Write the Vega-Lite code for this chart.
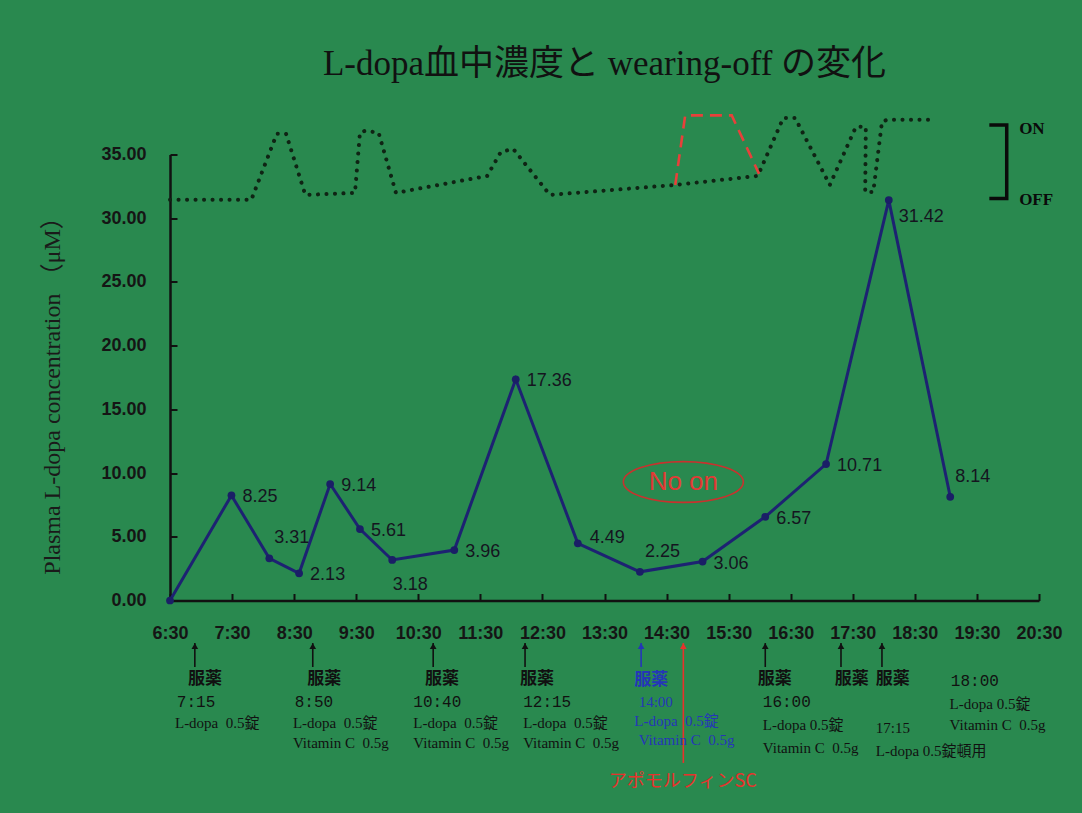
{
  "$schema": "https://vega.github.io/schema/vega-lite/v6.json",
  "width": 869,
  "height": 446,
  "autosize": {"type": "none"},
  "padding": {"left": 170, "top": 154.5, "right": 43, "bottom": 212.5},
  "background": "#29894f",
  "config": {
    "view": {"stroke": null},
    "axis": {
      "grid": false,
      "domainColor": "#111111",
      "domainWidth": 2.5,
      "tickColor": "#111111",
      "tickWidth": 2,
      "tickSize": -7,
      "labelOverlap": false,
      "labelFlush": false,
      "labelFont": "Liberation Sans",
      "labelFontWeight": "bold",
      "labelFontSize": 18,
      "labelColor": "#151515"
    }
  },
  "title": {
    "text": "L-dopa血中濃度と wearing-off の変化",
    "font": "Liberation Serif, Noto Sans CJK JP",
    "fontSize": 35,
    "fontWeight": "normal",
    "color": "#111111",
    "anchor": "middle",
    "frame": "group",
    "offset": 28
  },
  "datasets": {
    "conc": [
      {"t": 6.5, "conc": 0},
      {"t": 7.49, "conc": 8.25},
      {"t": 8.1, "conc": 3.31},
      {"t": 8.58, "conc": 2.13},
      {"t": 9.08, "conc": 9.14},
      {"t": 9.56, "conc": 5.61},
      {"t": 10.08, "conc": 3.18},
      {"t": 11.08, "conc": 3.96},
      {"t": 12.07, "conc": 17.36},
      {"t": 13.07, "conc": 4.49},
      {"t": 14.07, "conc": 2.25},
      {"t": 15.08, "conc": 3.06},
      {"t": 16.09, "conc": 6.57},
      {"t": 17.07, "conc": 10.71},
      {"t": 18.08, "conc": 31.42},
      {"t": 19.07, "conc": 8.14}
    ],
    "wearing": [
      {"seq": 1, "t": 6.5, "level": 31.44, "trace": "observed"},
      {"seq": 2, "t": 7.81, "level": 31.44, "trace": "observed"},
      {"seq": 3, "t": 8.22, "level": 36.62, "trace": "observed"},
      {"seq": 4, "t": 8.37, "level": 36.62, "trace": "observed"},
      {"seq": 5, "t": 8.68, "level": 31.83, "trace": "observed"},
      {"seq": 6, "t": 9.48, "level": 31.99, "trace": "observed"},
      {"seq": 7, "t": 9.56, "level": 36.72, "trace": "observed"},
      {"seq": 8, "t": 9.64, "level": 36.85, "trace": "observed"},
      {"seq": 9, "t": 9.86, "level": 36.72, "trace": "observed"},
      {"seq": 10, "t": 10.14, "level": 31.99, "trace": "observed"},
      {"seq": 11, "t": 11.61, "level": 33.32, "trace": "observed"},
      {"seq": 12, "t": 11.83, "level": 35.2, "trace": "observed"},
      {"seq": 13, "t": 12.03, "level": 35.44, "trace": "observed"},
      {"seq": 14, "t": 12.62, "level": 31.83, "trace": "observed"},
      {"seq": 15, "t": 14.64, "level": 32.61, "trace": "observed"},
      {"seq": 16, "t": 15.97, "level": 33.32, "trace": "observed"},
      {"seq": 17, "t": 16.38, "level": 37.87, "trace": "observed"},
      {"seq": 18, "t": 16.57, "level": 37.87, "trace": "observed"},
      {"seq": 19, "t": 17.13, "level": 32.61, "trace": "observed"},
      {"seq": 20, "t": 17.55, "level": 37.17, "trace": "observed"},
      {"seq": 21, "t": 17.71, "level": 37.17, "trace": "observed"},
      {"seq": 22, "t": 17.7, "level": 32.06, "trace": "observed"},
      {"seq": 23, "t": 17.83, "level": 32.06, "trace": "observed"},
      {"seq": 24, "t": 17.97, "level": 37.56, "trace": "observed"},
      {"seq": 25, "t": 18.05, "level": 37.72, "trace": "observed"},
      {"seq": 26, "t": 18.74, "level": 37.72, "trace": "observed"},
      {"seq": 1, "t": 14.64, "level": 32.61, "trace": "expected"},
      {"seq": 2, "t": 14.8, "level": 38.07, "trace": "expected"},
      {"seq": 3, "t": 15.55, "level": 38.07, "trace": "expected"},
      {"seq": 4, "t": 15.99, "level": 33.48, "trace": "expected"}
    ],
    "bracket": [
      {"seq": 1, "t": 19.7, "level": 37.32},
      {"seq": 2, "t": 19.98, "level": 37.32},
      {"seq": 3, "t": 19.98, "level": 31.55},
      {"seq": 4, "t": 19.7, "level": 31.55}
    ],
    "states": [
      {"t": 20.18, "level": 37.0, "text": "ON"},
      {"t": 20.18, "level": 31.44, "text": "OFF"}
    ],
    "noon": [
      {"t": 14.77, "level": 9.3, "text": "No on"}
    ],
    "doses": [
      {"t": 6.9, "top": -3.34, "bottom": -5.22, "group": "dose"},
      {"t": 8.8, "top": -3.34, "bottom": -5.22, "group": "dose"},
      {"t": 10.74, "top": -3.34, "bottom": -5.22, "group": "dose"},
      {"t": 12.22, "top": -3.34, "bottom": -5.22, "group": "dose"},
      {"t": 14.09, "top": -3.34, "bottom": -5.22, "group": "dose-no-on"},
      {"t": 14.77, "top": -3.34, "bottom": -12.75, "group": "apomorphine"},
      {"t": 16.09, "top": -3.34, "bottom": -5.22, "group": "dose"},
      {"t": 17.31, "top": -3.34, "bottom": -5.22, "group": "dose"},
      {"t": 17.97, "top": -3.34, "bottom": -5.22, "group": "dose"}
    ],
    "notes": [
      {"t": 6.79, "y": -6.16, "text": "服薬", "kind": "label", "group": "dose"},
      {"t": 8.71, "y": -6.16, "text": "服薬", "kind": "label", "group": "dose"},
      {"t": 10.61, "y": -6.16, "text": "服薬", "kind": "label", "group": "dose"},
      {"t": 12.14, "y": -6.16, "text": "服薬", "kind": "label", "group": "dose"},
      {"t": 13.98, "y": -6.24, "text": "服薬", "kind": "label", "group": "dose-no-on"},
      {"t": 15.97, "y": -6.16, "text": "服薬", "kind": "label", "group": "dose"},
      {"t": 17.21, "y": -6.16, "text": "服薬", "kind": "label", "group": "dose"},
      {"t": 17.87, "y": -6.16, "text": "服薬", "kind": "label", "group": "dose"},
      {"t": 6.61, "y": -7.97, "text": "7:15", "kind": "time", "group": "dose"},
      {"t": 8.51, "y": -7.97, "text": "8:50", "kind": "time", "group": "dose"},
      {"t": 10.42, "y": -7.97, "text": "10:40", "kind": "time", "group": "dose"},
      {"t": 12.19, "y": -7.97, "text": "12:15", "kind": "time", "group": "dose"},
      {"t": 16.05, "y": -7.97, "text": "16:00", "kind": "time", "group": "dose"},
      {"t": 19.08, "y": -6.32, "text": "18:00", "kind": "time", "group": "dose"},
      {"t": 6.58, "y": -9.62, "text": "L-dopa\u00a0\u00a00.5錠", "kind": "detail", "group": "dose"},
      {"t": 8.48, "y": -9.62, "text": "L-dopa\u00a0\u00a00.5錠", "kind": "detail", "group": "dose"},
      {"t": 8.48, "y": -11.18, "text": "Vitamin C\u00a0\u00a00.5g", "kind": "detail", "group": "dose"},
      {"t": 10.42, "y": -9.62, "text": "L-dopa\u00a0\u00a00.5錠", "kind": "detail", "group": "dose"},
      {"t": 10.42, "y": -11.18, "text": "Vitamin C\u00a0\u00a00.5g", "kind": "detail", "group": "dose"},
      {"t": 12.19, "y": -9.62, "text": "L-dopa\u00a0\u00a00.5錠", "kind": "detail", "group": "dose"},
      {"t": 12.19, "y": -11.18, "text": "Vitamin C\u00a0\u00a00.5g", "kind": "detail", "group": "dose"},
      {"t": 14.05, "y": -7.97, "text": "14:00", "kind": "detail", "group": "dose-no-on"},
      {"t": 13.98, "y": -9.46, "text": "L-dopa\u00a0\u00a00.5錠", "kind": "detail", "group": "dose-no-on"},
      {"t": 14.05, "y": -10.91, "text": "Vitamin C\u00a0\u00a00.5g", "kind": "detail", "group": "dose-no-on"},
      {"t": 16.05, "y": -9.77, "text": "L-dopa 0.5錠", "kind": "detail", "group": "dose"},
      {"t": 16.05, "y": -11.58, "text": "Vitamin C\u00a0\u00a00.5g", "kind": "detail", "group": "dose"},
      {"t": 17.87, "y": -10.0, "text": "17:15", "kind": "detail", "group": "dose"},
      {"t": 17.87, "y": -11.81, "text": "L-dopa 0.5錠頓用", "kind": "detail", "group": "dose"},
      {"t": 19.06, "y": -8.12, "text": "L-dopa 0.5錠", "kind": "detail", "group": "dose"},
      {"t": 19.06, "y": -9.77, "text": "Vitamin C\u00a0\u00a00.5g", "kind": "detail", "group": "dose"},
      {"t": 13.57, "y": -14.25, "text": "アポモルフィンSC", "kind": "apo", "group": "apomorphine"}
    ]
  },
  "layer": [
    {
      "data": {"name": "conc"},
      "mark": {"type": "line", "color": "#1d2272", "strokeWidth": 3, "point": {"filled": true, "size": 60, "color": "#1a1f66"}},
      "encoding": {
        "x": {
          "field": "t", "type": "quantitative",
          "scale": {"domain": [6.5, 20.5], "nice": false, "zero": false},
          "axis": {
            "title": null,
            "values": [6.5, 7.5, 8.5, 9.5, 10.5, 11.5, 12.5, 13.5, 14.5, 15.5, 16.5, 17.5, 18.5, 19.5, 20.5],
            "labelExpr": "floor(datum.value) + ':30'",
            "labelPadding": 31
          }
        },
        "y": {
          "field": "conc", "type": "quantitative",
          "scale": {"domain": [0, 35], "nice": false, "zero": false},
          "axis": {
            "values": [0, 5, 10, 15, 20, 25, 30, 35],
            "format": ".2f",
            "labelPadding": 31,
            "title": "Plasma  L-dopa concentration （μM）",
            "titleFont": "Liberation Serif, Noto Sans CJK JP",
            "titleFontSize": 24,
            "titleFontWeight": "normal",
            "titleColor": "#1a1a1a",
            "titleAngle": -90,
            "titleAlign": "center",
            "titleBaseline": "middle",
            "titleX": -118,
            "titleY": 235
          }
        }
      }
    },
    {
      "data": {"name": "wearing"},
      "transform": [{"filter": "datum.trace === 'observed'"}],
      "mark": {"type": "line", "stroke": "#0f2414", "strokeWidth": 4, "strokeDash": [0.1, 8.4], "strokeCap": "round", "strokeJoin": "round"},
      "encoding": {
        "x": {"field": "t", "type": "quantitative"},
        "y": {"field": "level", "type": "quantitative"},
        "order": {"field": "seq", "type": "quantitative"}
      }
    },
    {
      "data": {"name": "wearing"},
      "transform": [{"filter": "datum.trace === 'expected'"}],
      "mark": {"type": "line", "stroke": "#e8403a", "strokeWidth": 2.6, "strokeDash": [12, 7]},
      "encoding": {
        "x": {"field": "t", "type": "quantitative"},
        "y": {"field": "level", "type": "quantitative"},
        "order": {"field": "seq", "type": "quantitative"}
      }
    },
    {
      "data": {"name": "bracket"},
      "mark": {"type": "line", "stroke": "#0a0a0a", "strokeWidth": 3.5, "strokeJoin": "miter"},
      "encoding": {
        "x": {"field": "t", "type": "quantitative"},
        "y": {"field": "level", "type": "quantitative"},
        "order": {"field": "seq", "type": "quantitative"}
      }
    },
    {
      "data": {"name": "states"},
      "mark": {"type": "text", "align": "left", "baseline": "middle", "font": "Liberation Serif", "fontWeight": "bold", "fontSize": 17, "color": "#0a0a0a"},
      "encoding": {
        "x": {"field": "t", "type": "quantitative"},
        "y": {"field": "level", "type": "quantitative"},
        "text": {"field": "text"}
      }
    },
    {
      "data": {"name": "conc"},
      "transform": [{"filter": {"field": "conc", "oneOf": [8.25, 2.13, 9.14, 5.61, 3.96, 17.36, 3.06, 6.57, 10.71]}}],
      "mark": {"type": "text", "align": "left", "baseline": "middle", "dx": 11, "dy": 2, "font": "Liberation Sans", "fontSize": 18, "color": "#15151f"},
      "encoding": {
        "x": {"field": "t", "type": "quantitative"},
        "y": {"field": "conc", "type": "quantitative"},
        "text": {"field": "conc", "format": ".2f"}
      }
    },
    {
      "data": {"name": "conc"},
      "transform": [{"filter": {"field": "conc", "oneOf": [4.49]}}],
      "mark": {"type": "text", "align": "left", "baseline": "middle", "dx": 12, "dy": -5, "font": "Liberation Sans", "fontSize": 18, "color": "#15151f"},
      "encoding": {
        "x": {"field": "t", "type": "quantitative"},
        "y": {"field": "conc", "type": "quantitative"},
        "text": {"field": "conc", "format": ".2f"}
      }
    },
    {
      "data": {"name": "conc"},
      "transform": [{"filter": {"field": "conc", "oneOf": [31.42]}}],
      "mark": {"type": "text", "align": "left", "baseline": "middle", "dx": 10, "dy": 17, "font": "Liberation Sans", "fontSize": 18, "color": "#15151f"},
      "encoding": {
        "x": {"field": "t", "type": "quantitative"},
        "y": {"field": "conc", "type": "quantitative"},
        "text": {"field": "conc", "format": ".2f"}
      }
    },
    {
      "data": {"name": "conc"},
      "transform": [{"filter": {"field": "conc", "oneOf": [3.31, 2.25, 8.14]}}],
      "mark": {"type": "text", "align": "left", "baseline": "middle", "dx": 5, "dy": -20, "font": "Liberation Sans", "fontSize": 18, "color": "#15151f"},
      "encoding": {
        "x": {"field": "t", "type": "quantitative"},
        "y": {"field": "conc", "type": "quantitative"},
        "text": {"field": "conc", "format": ".2f"}
      }
    },
    {
      "data": {"name": "conc"},
      "transform": [{"filter": {"field": "conc", "oneOf": [3.18]}}],
      "mark": {"type": "text", "align": "center", "baseline": "middle", "dx": 18, "dy": 25, "font": "Liberation Sans", "fontSize": 18, "color": "#15151f"},
      "encoding": {
        "x": {"field": "t", "type": "quantitative"},
        "y": {"field": "conc", "type": "quantitative"},
        "text": {"field": "conc", "format": ".2f"}
      }
    },
    {
      "data": {"name": "noon"},
      "mark": {
        "type": "point",
        "shape": "M -1 0 C -1 -0.188 -0.552 -0.34 0 -0.34 C 0.552 -0.34 1 -0.188 1 0 C 1 0.188 0.552 0.34 0 0.34 C -0.552 0.34 -1 0.188 -1 0 Z",
        "filled": false, "size": 14400, "color": "#c8322e", "strokeWidth": 1.6, "opacity": 1
      },
      "encoding": {
        "x": {"field": "t", "type": "quantitative"},
        "y": {"field": "level", "type": "quantitative"}
      }
    },
    {
      "data": {"name": "noon"},
      "mark": {"type": "text", "align": "center", "baseline": "middle", "font": "Liberation Sans", "fontSize": 26, "color": "#e23a35"},
      "encoding": {
        "x": {"field": "t", "type": "quantitative"},
        "y": {"field": "level", "type": "quantitative"},
        "text": {"field": "text"}
      }
    },
    {
      "data": {"name": "doses"},
      "mark": {"type": "rule", "strokeWidth": 1.6},
      "encoding": {
        "x": {"field": "t", "type": "quantitative"},
        "y": {"field": "top", "type": "quantitative"},
        "y2": {"field": "bottom"},
        "color": {"field": "group", "type": "nominal", "scale": {"domain": ["dose", "dose-no-on", "apomorphine"], "range": ["#111111", "#2536b8", "#e8322c"]}, "legend": null}
      }
    },
    {
      "data": {"name": "doses"},
      "mark": {"type": "point", "shape": "triangle-up", "filled": true, "size": 45, "opacity": 1},
      "encoding": {
        "x": {"field": "t", "type": "quantitative"},
        "y": {"field": "top", "type": "quantitative"},
        "yOffset": {"value": 3},
        "color": {"field": "group", "type": "nominal", "legend": null}
      }
    },
    {
      "data": {"name": "notes"},
      "transform": [{"filter": "datum.kind === 'label'"}],
      "mark": {"type": "text", "align": "left", "baseline": "middle", "font": "Noto Sans CJK JP", "fontWeight": "bold", "fontSize": 17},
      "encoding": {
        "x": {"field": "t", "type": "quantitative"},
        "y": {"field": "y", "type": "quantitative"},
        "text": {"field": "text"},
        "color": {"field": "group", "type": "nominal", "legend": null}
      }
    },
    {
      "data": {"name": "notes"},
      "transform": [{"filter": "datum.kind === 'time'"}],
      "mark": {"type": "text", "align": "left", "baseline": "middle", "font": "Liberation Mono", "fontSize": 16},
      "encoding": {
        "x": {"field": "t", "type": "quantitative"},
        "y": {"field": "y", "type": "quantitative"},
        "text": {"field": "text"},
        "color": {"field": "group", "type": "nominal", "legend": null}
      }
    },
    {
      "data": {"name": "notes"},
      "transform": [{"filter": "datum.kind === 'detail'"}],
      "mark": {"type": "text", "align": "left", "baseline": "middle", "font": "Liberation Serif, Noto Sans CJK JP", "fontSize": 15},
      "encoding": {
        "x": {"field": "t", "type": "quantitative"},
        "y": {"field": "y", "type": "quantitative"},
        "text": {"field": "text"},
        "color": {"field": "group", "type": "nominal", "legend": null}
      }
    },
    {
      "data": {"name": "notes"},
      "transform": [{"filter": "datum.kind === 'apo'"}],
      "mark": {"type": "text", "align": "left", "baseline": "middle", "font": "Noto Sans CJK JP", "fontSize": 18},
      "encoding": {
        "x": {"field": "t", "type": "quantitative"},
        "y": {"field": "y", "type": "quantitative"},
        "text": {"field": "text"},
        "color": {"field": "group", "type": "nominal", "legend": null}
      }
    }
  ]
}
